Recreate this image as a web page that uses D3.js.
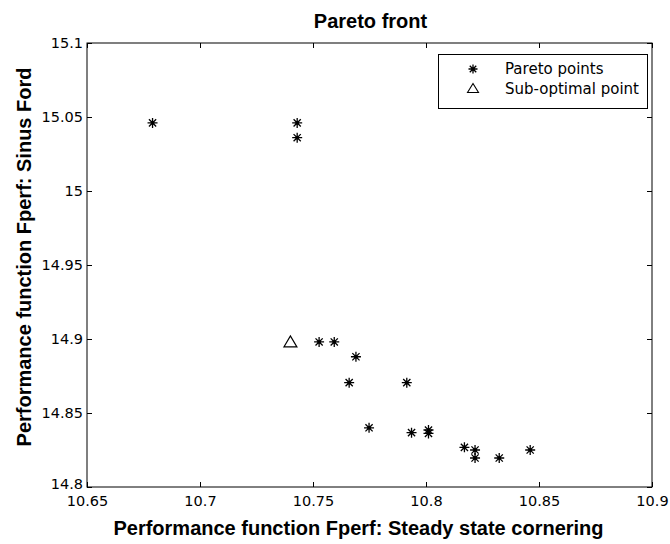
<!DOCTYPE html>
<html><head><meta charset="utf-8">
<script src="https://cdn.jsdelivr.net/npm/d3@7"></script>
<style>body{margin:0;background:#fff;}svg{display:block;}text{font-family:"Liberation Sans",Arial,sans-serif;}</style>
</head><body>
<script>
const paretoX = [10.679,10.743,10.743,10.7527,10.7594,10.769,10.766,10.7915,10.7748,10.7936,10.8011,10.8011,10.817,10.8217,10.8217,10.8324,10.8461];
const paretoY = [15.046,15.046,15.036,14.898,14.898,14.888,14.8705,14.8705,14.840,14.8367,14.8362,14.8385,14.8268,14.825,14.8196,14.8196,14.825];
const subX = [10.740];
const subY = [14.898];
const xTicks = [10.65,10.7,10.75,10.8,10.85,10.9];
const yTicks = [14.8,14.85,14.9,14.95,15,15.05,15.1];
const title = "Pareto front";
const xLabel = "Performance function Fperf: Steady state cornering";
const yLabel = "Performance function Fperf: Sinus Ford";
const legendLabels = ["Pareto points","Sub-optimal point"];

const W=670,H=544, L=87,R=652,T=43,B=487;
const svg=d3.select("body").append("svg").attr("width",W).attr("height",H);
const x=d3.scaleLinear().domain([10.65,10.9]).range([L,R]);
const y=d3.scaleLinear().domain([14.8,15.1]).range([B,T]);
const fmt=d=>String(+d.toFixed(2));
const regFont="'DejaVu Sans',sans-serif";

svg.append("rect").attr("x",L).attr("y",T).attr("width",R-L).attr("height",B-T)
  .attr("fill","#fff").attr("stroke","#000").attr("stroke-width",1);

const tl=5;
const gx=svg.append("g").attr("transform",`translate(0,${B})`)
  .call(d3.axisBottom(x).tickValues(xTicks).tickFormat(fmt).tickSizeInner(-tl).tickSizeOuter(0).tickPadding(9));
const gxt=svg.append("g").attr("transform",`translate(0,${T})`)
  .call(d3.axisTop(x).tickValues(xTicks).tickFormat("").tickSizeInner(-tl).tickSizeOuter(0));
const gy=svg.append("g").attr("transform",`translate(${L},0)`)
  .call(d3.axisLeft(y).tickValues(yTicks).tickFormat(fmt).tickSizeInner(-tl).tickSizeOuter(0).tickPadding(4));
const gyr=svg.append("g").attr("transform",`translate(${R},0)`)
  .call(d3.axisRight(y).tickValues(yTicks).tickFormat("").tickSizeInner(-tl).tickSizeOuter(0));
[gx,gxt,gy,gyr].forEach(g=>{g.select(".domain").remove();g.selectAll("line").attr("stroke","#000");
  g.selectAll("text").attr("font-size",14.5).attr("fill","#000").style("font-family",regFont);});
gx.selectAll("text").attr("dy","0.7em");
gy.selectAll("text").filter(d=>d===14.8).attr("dy","0.1em");

function starPath(cx,cy,r){
  const d=r*0.72;
  return `M${cx-r},${cy}L${cx+r},${cy}M${cx},${cy-r}L${cx},${cy+r}M${cx-d},${cy-d}L${cx+d},${cy+d}M${cx-d},${cy+d}L${cx+d},${cy-d}`;
}
function triPath(cx,cy,w,h){
  return `M${cx-w/2},${cy+h/2}L${cx},${cy-h/2}L${cx+w/2},${cy+h/2}Z`;
}
const pts=paretoX.map((v,i)=>({x:v,y:paretoY[i]}));
svg.append("g").selectAll("path").data(pts).join("path")
  .attr("d",d=>starPath(x(d.x),y(d.y),5)).attr("stroke","#000").attr("stroke-width",1.3).attr("fill","none");
svg.append("g").selectAll("circle").data(pts).join("circle")
  .attr("cx",d=>x(d.x)).attr("cy",d=>y(d.y)).attr("r",1.8).attr("fill","#000");
const subs=subX.map((v,i)=>({x:v,y:subY[i]}));
svg.append("g").selectAll("path").data(subs).join("path")
  .attr("d",d=>triPath(x(d.x),y(d.y)-0.5,13,11)).attr("stroke","#000").attr("stroke-width",1.2).attr("fill","none");

// legend
const lg=svg.append("g");
lg.append("rect").attr("x",438.5).attr("y",54.5).attr("width",209).attr("height",54).attr("fill","#fff").attr("stroke","#000");
lg.append("path").attr("d",starPath(473,69,4.5)).attr("stroke","#000").attr("stroke-width",1.3);
lg.append("circle").attr("cx",473).attr("cy",69).attr("r",1.5).attr("fill","#000");
lg.append("path").attr("d",triPath(473,88,11,9)).attr("stroke","#000").attr("stroke-width",1.1).attr("fill","none");
lg.selectAll("text").data(legendLabels).join("text")
  .attr("x",505).attr("y",(d,i)=>74+i*20).attr("font-size",15).style("font-family",regFont).text(d=>d);

svg.append("text").attr("x",(L+R)/2+1).attr("y",28).attr("text-anchor","middle")
  .attr("font-size",20).attr("font-weight","bold").text(title);
svg.append("text").attr("x",(L+R)/2-11).attr("y",535).attr("text-anchor","middle")
  .attr("font-size",20).attr("font-weight","bold").text(xLabel);
svg.append("text").attr("transform",`translate(31,${(T+B)/2-8}) rotate(-90)`).attr("text-anchor","middle")
  .attr("font-size",20).attr("font-weight","bold").text(yLabel);
</script>
</body></html>
